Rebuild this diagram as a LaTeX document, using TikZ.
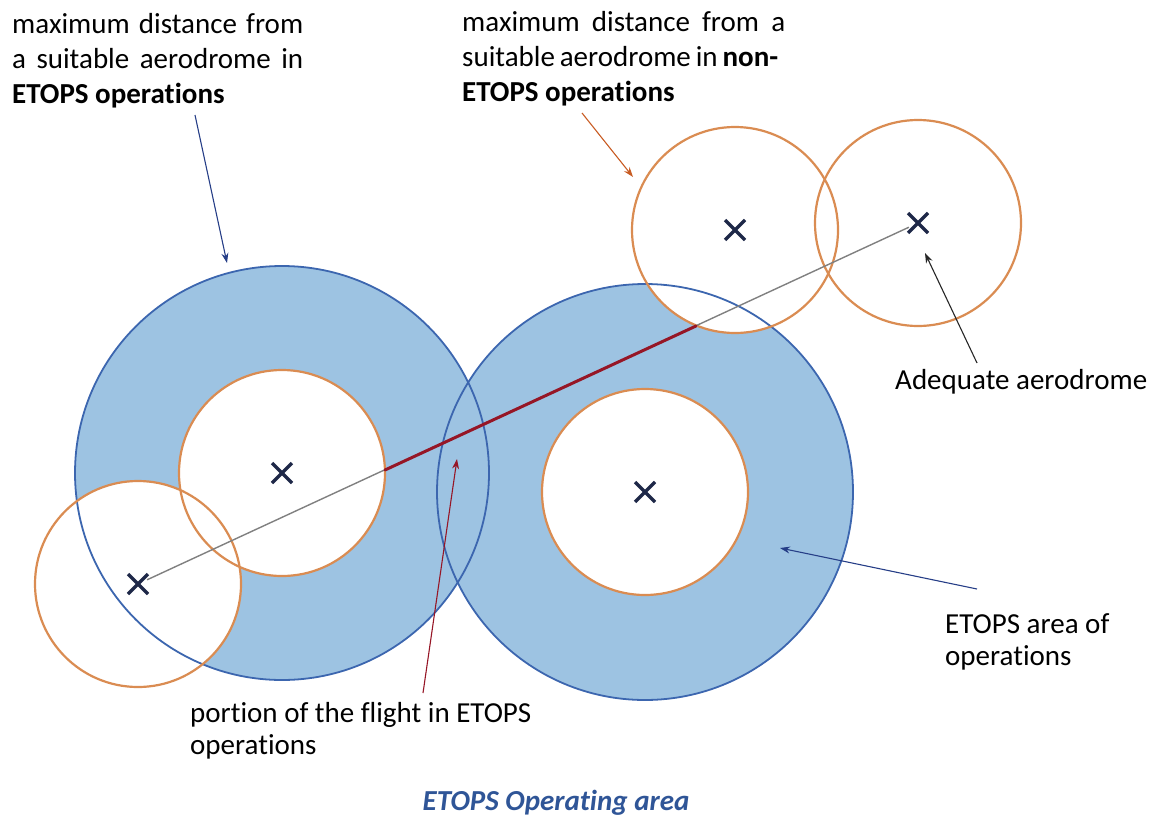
\documentclass[tikz,border=0pt]{standalone}
\usepackage{fontspec}
\setmainfont{Carlito}[Ligatures=NoCommon]
\usetikzlibrary{arrows.meta}

\definecolor{zonefill}{RGB}{157,195,226}
\definecolor{zoneline}{RGB}{60,102,175}
\definecolor{rangeline}{RGB}{218,140,82}
\definecolor{flightred}{RGB}{150,22,38}
\definecolor{trackgray}{RGB}{128,128,128}
\definecolor{marknavy}{RGB}{30,40,72}
\definecolor{captionblue}{RGB}{47,85,151}
\definecolor{arrowblue}{RGB}{38,62,135}
\definecolor{arroworange}{RGB}{200,92,35}

\begin{document}
\begin{tikzpicture}[x=1pt,y=-1pt,
  zonering/.style={draw=zoneline,line width=1.8pt},
  rangering/.style={draw=rangeline,line width=2.2pt},
  trackline/.style={draw=trackgray,line width=1.4pt},
  flightline/.style={draw=flightred,line width=3pt,line cap=round},
  pointer/.style={line width=1.1pt,-{Stealth[length=10pt,width=7pt]}},
  lbl/.style={inner sep=0pt,align=left,font=\fontsize{29}{35}\selectfont},
  lbllow/.style={inner sep=0pt,align=left,font=\fontsize{29}{32}\selectfont},
  xmark/.style={draw=marknavy,line width=3.4pt}]

\useasboundingbox (0,0) rectangle (1166,816);

% aerodrome positions
\coordinate (home)  at (138,584);
\coordinate (altA)  at (282,473);
\coordinate (altB)  at (645,492);
\coordinate (altC)  at (735,230);
\coordinate (dest)  at (918,223);

% ETOPS areas (blue discs)
\fill[zonefill] (altA) circle[radius=207pt];
\fill[zonefill] (altB) circle[radius=208pt];

% non-ETOPS ranges (white discs)
\foreach \c in {home,altA,altB,altC,dest}
  \fill[white] (\c) circle[radius=103pt];

\draw[zonering] (altA) circle[radius=207pt];
\draw[zonering] (altB) circle[radius=208pt];

\foreach \c in {home,altA,altB,altC,dest}
  \draw[rangering] (\c) circle[radius=103pt];

% route and its ETOPS portion
\draw[trackline,shorten <=10pt,shorten >=10pt] (home) -- (dest);
\coordinate (etopsIn)  at (385,470);
\coordinate (etopsOut) at (696,326);
\draw[flightline] (etopsIn) -- (etopsOut);

% aerodrome crosses
\foreach \c in {home,altA,altB,altC,dest}
  \draw[xmark] ([shift={(-10,-10)}]\c) -- ([shift={(10,10)}]\c)
               ([shift={(-10,10)}]\c) -- ([shift={(10,-10)}]\c);

% labels
\node[lbl,anchor=north west] (lblEtops) at (12,13)
  {\makebox[291pt][s]{maximum distance from}\\
   \makebox[291pt][s]{a suitable aerodrome in}\\
   \textbf{ETOPS operations}};
\node[lbl,anchor=north west] (lblNon) at (462,11)
  {\makebox[323pt][s]{maximum distance from a}\\
   \makebox[316pt][s]{suitable aerodrome in \textbf{non-}}\\
   \textbf{ETOPS operations}};
\node[lbl,anchor=base west] (lblAdeq) at (895,389) {Adequate aerodrome};
\node[lbllow,anchor=north west] (lblArea) at (945,613)
  {ETOPS area of\\operations};
\node[lbllow,anchor=north west] (lblPortion) at (190,702)
  {portion of the flight in ETOPS\\operations};
\node[anchor=base,inner sep=0pt,text=captionblue,
      font=\fontsize{29}{34}\selectfont\bfseries\itshape] (caption) at (556,810)
  {ETOPS Operating area};

% pointers
\coordinate (p1s) at (195,115);  \coordinate (p1e) at (227,263);
\coordinate (p2s) at (582,113);  \coordinate (p2e) at (633,177);
\coordinate (p3s) at (977,363);  \coordinate (p3e) at (925,253);
\coordinate (p4s) at (423,693);  \coordinate (p4e) at (457,459);
\coordinate (p5s) at (977,589);  \coordinate (p5e) at (780,548);
\draw[pointer,arrowblue]   (p1s) -- (p1e);
\draw[pointer,arroworange] (p2s) -- (p2e);
\draw[pointer,black!85]    (p3s) -- (p3e);
\draw[pointer,flightred]   (p4s) -- (p4e);
\draw[pointer,arrowblue]   (p5s) -- (p5e);
\end{tikzpicture}
\end{document}
